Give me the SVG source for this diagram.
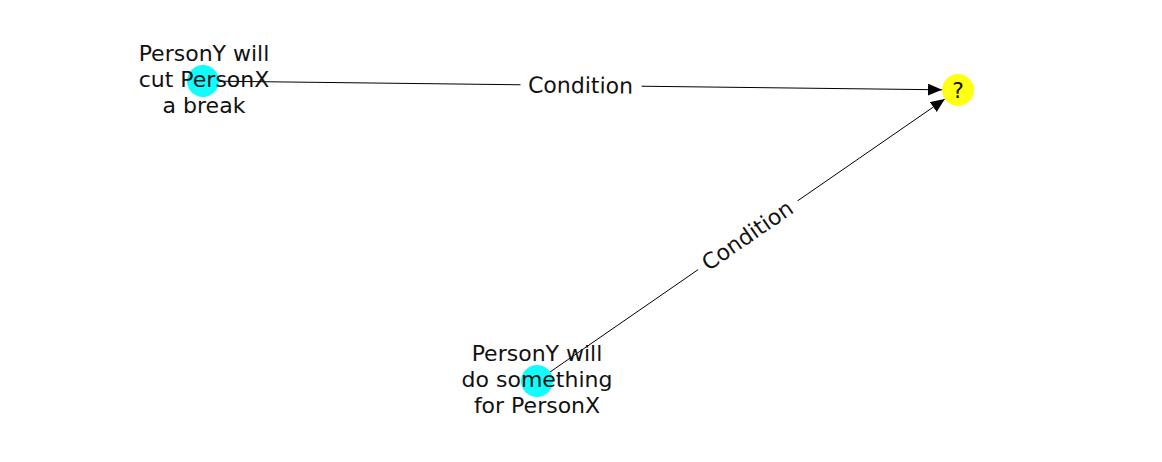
<svg xmlns="http://www.w3.org/2000/svg" width="1162" height="462" viewBox="0 0 1162 462">
<style>
  .edge { stroke: #000; stroke-width: 1; fill: none; }
  .lbl { font-family: "DejaVu Sans", sans-serif; font-size: 22px; fill: #111; text-anchor: middle; }
  .elbl { font-family: "DejaVu Sans", sans-serif; font-size: 22px; fill: #111; text-anchor: middle; dominant-baseline: central; }
  .bg { fill: #fff; stroke: none; }
  .cyan { fill: #11fcfc; }
  .yellow { fill: #ffff11; }
</style>
<defs>
  <marker id="arrow" markerUnits="userSpaceOnUse" markerWidth="16" markerHeight="14" refX="14" refY="6" orient="auto" viewBox="0 0 16 14">
    <path d="M0,0 L14,6 L0,12 Z" fill="#000"/>
  </marker>
</defs>
<rect width="1162" height="462" fill="#fff"/>
<g id="connectors">
  <line class="edge" x1="203" y1="81" x2="942" y2="89.8" marker-end="url(#arrow)"/>
  <line class="edge" x1="537" y1="381" x2="944.8" y2="99.1" marker-end="url(#arrow)"/>
  <g transform="translate(580.5 85.5) rotate(0.68)">
    <rect class="bg" x="-60" y="-15" width="121" height="30"/>
    <text class="elbl" x="0" y="0">Condition</text>
  </g>
  <g transform="translate(747.5 235.5) rotate(-34.65)">
    <rect class="bg" x="-60" y="-15" width="121" height="30"/>
    <text class="elbl" x="0" y="0">Condition</text>
  </g>
</g>
<g id="node-cut-break">
  <circle class="cyan" cx="203" cy="81" r="16"/>
  <text class="lbl" x="204" y="61">PersonY will</text>
  <text class="lbl" x="204" y="87">cut PersonX</text>
  <text class="lbl" x="204" y="113">a break</text>
</g>
<g id="node-do-something">
  <circle class="cyan" cx="537" cy="381" r="16"/>
  <text class="lbl" x="537" y="361">PersonY will</text>
  <text class="lbl" x="537" y="387">do something</text>
  <text class="lbl" x="537" y="413">for PersonX</text>
</g>
<g id="node-unknown">
  <circle class="yellow" cx="958" cy="90" r="16"/>
  <text class="lbl" x="958" y="98">?</text>
</g>
</svg>
